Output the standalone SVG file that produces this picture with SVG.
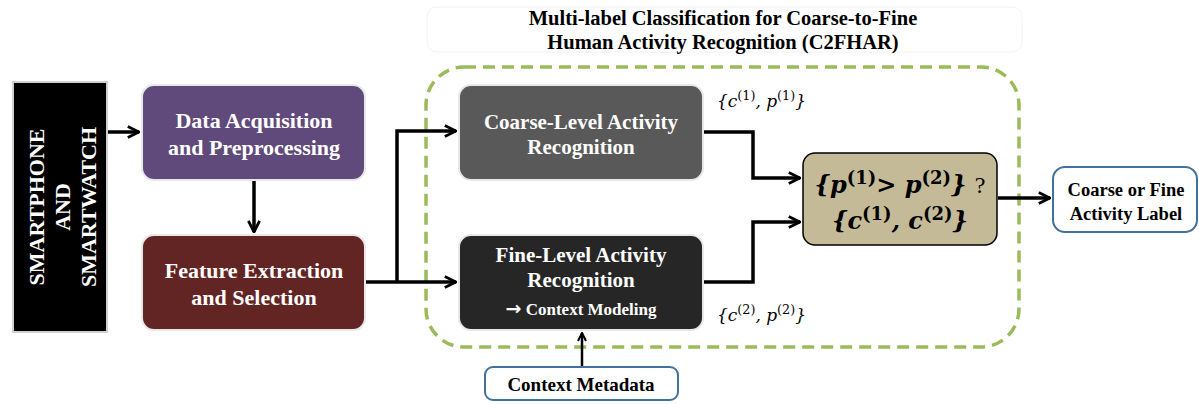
<svg xmlns="http://www.w3.org/2000/svg" width="1199" height="404" viewBox="0 0 1199 404">
<style>
.t{font-family:"Liberation Serif","Times New Roman",serif;font-weight:bold;text-anchor:middle}
.w{fill:#fff}
.k{fill:#000}
.box{stroke:#e8e8e8;stroke-width:2}
.conn{fill:none;stroke:#000;stroke-width:3.5}
.m{font-family:"DejaVu Serif","Liberation Serif",serif;font-style:italic;fill:#000}
.sup{font-size:75%;font-style:normal}
</style>
<defs>
<marker id="ah" viewBox="0 0 10 10" refX="9" refY="5" markerWidth="4" markerHeight="4" orient="auto" markerUnits="strokeWidth">
<path d="M1,1 L9,5 L1,9" fill="none" stroke="#000" stroke-width="2"/>
</marker>
</defs>
<rect width="1199" height="404" fill="#fff"/>
<g id="title">
<rect x="427" y="7" width="595" height="45" rx="10" fill="#fff" stroke="#f2f2f2" stroke-width="1"/>
<text class="t k" x="723" y="25" font-size="20.5">Multi-label Classification for Coarse-to-Fine</text>
<text class="t k" x="723" y="49" font-size="20.5">Human Activity Recognition (C2FHAR)</text>
</g>
<g id="c2fhar-region">
<rect x="426" y="67" width="593" height="280" rx="38" fill="none" stroke="#9BBB59" stroke-width="3.5" stroke-dasharray="12 7"/>
</g>
<g id="device">
<rect x="13" y="82" width="94" height="250" fill="#000" stroke="#d0d0d0" stroke-width="2"/>
<g class="t w" font-size="22">
<text transform="translate(44,207) rotate(-90)">SMARTPHONE</text>
<text transform="translate(70,207) rotate(-90)">AND</text>
<text transform="translate(96,207) rotate(-90)">SMARTWATCH</text>
</g>
</g>
<g id="acquisition">
<rect class="box" x="142" y="85" width="223" height="95" rx="12" fill="#604A7B"/>
<text class="t w" x="254" y="128" font-size="22">Data Acquisition</text>
<text class="t w" x="254" y="155" font-size="22">and Preprocessing</text>
</g>
<g id="features">
<rect class="box" x="142" y="235" width="223" height="95" rx="12" fill="#632523"/>
<text class="t w" x="254" y="278" font-size="22">Feature Extraction</text>
<text class="t w" x="254" y="305" font-size="22">and Selection</text>
</g>
<g id="coarse">
<rect class="box" x="459" y="85" width="244" height="95" rx="12" fill="#595959"/>
<text class="t w" x="581" y="129" font-size="21">Coarse-Level Activity</text>
<text class="t w" x="581" y="154" font-size="21">Recognition</text>
</g>
<g id="fine">
<rect class="box" x="459" y="235" width="244" height="95" rx="12" fill="#262626"/>
<text class="t w" x="581" y="262" font-size="21">Fine-Level Activity</text>
<text class="t w" x="581" y="287" font-size="21">Recognition</text>
<text class="t w" x="581" y="315" font-size="17"><tspan font-family="DejaVu Sans,sans-serif" font-size="19">→</tspan> Context Modeling</text>
</g>
<g id="decision">
<rect x="803" y="153" width="194" height="92" rx="12" fill="#C4BA97" stroke="#000" stroke-width="1.5"/>
<text class="m" x="900" y="193" font-size="24" text-anchor="middle" font-weight="bold">{p<tspan class="sup" dy="-9">(1)</tspan><tspan dy="9">&gt; p</tspan><tspan class="sup" dy="-9">(2)</tspan><tspan dy="9">} </tspan><tspan font-style="normal" font-weight="normal" font-family="Liberation Serif,serif">?</tspan></text>
<text class="m" x="900" y="229" font-size="24" text-anchor="middle" font-weight="bold">{c<tspan class="sup" dy="-9">(1)</tspan><tspan dy="9">, c</tspan><tspan class="sup" dy="-9">(2)</tspan><tspan dy="9">}</tspan></text>
</g>
<g id="output">
<rect x="1053" y="167" width="144" height="65" rx="12" fill="#fff" stroke="#41719C" stroke-width="2"/>
<text class="t k" x="1126" y="196" font-size="18.5">Coarse or Fine</text>
<text class="t k" x="1126" y="220" font-size="18.5">Activity Label</text>
</g>
<g id="context-metadata">
<rect x="485" y="367" width="193" height="33" rx="8" fill="#fff" stroke="#41719C" stroke-width="2"/>
<text class="t k" x="581" y="391" font-size="19">Context Metadata</text>
</g>
<g id="labels">
<text class="m" x="717" y="107" font-size="17">{c<tspan class="sup" dy="-7">(1)</tspan><tspan dy="7">, p</tspan><tspan class="sup" dy="-7">(1)</tspan><tspan dy="7">}</tspan></text>
<text class="m" x="717" y="321" font-size="17">{c<tspan class="sup" dy="-7">(2)</tspan><tspan dy="7">, p</tspan><tspan class="sup" dy="-7">(2)</tspan><tspan dy="7">}</tspan></text>
</g>
<g id="connectors">
<path class="conn" d="M108,132 H139" marker-end="url(#ah)"/>
<path class="conn" d="M254,181 V232" marker-end="url(#ah)"/>
<path class="conn" d="M366,282 H456" marker-end="url(#ah)"/>
<path class="conn" d="M397,282 V131 H456" marker-end="url(#ah)"/>
<path class="conn" d="M704,132 H753 V178 H800" marker-end="url(#ah)"/>
<path class="conn" d="M704,282 H753 V222 H800" marker-end="url(#ah)"/>
<path class="conn" d="M998,198 H1050" marker-end="url(#ah)"/>
<path d="M582,366 V333" fill="none" stroke="#000" stroke-width="2.5" marker-end="url(#ah)"/>
</g>
</svg>
